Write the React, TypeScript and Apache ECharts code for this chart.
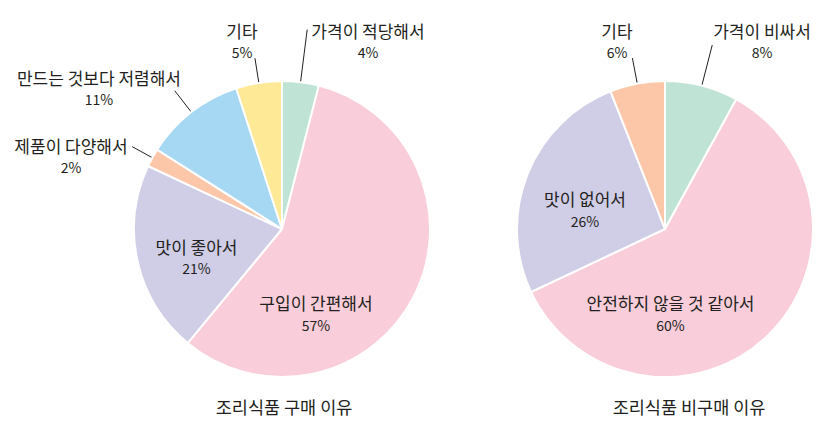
import React, { useEffect, useRef } from "react";
import * as echarts from "echarts";

const buyCategories = ["가격이 적당해서", "구입이 간편해서", "맛이 좋아서", "제품이 다양해서", "만드는 것보다 저렴해서", "기타"];
const buyValues = [4, 57, 21, 2, 11, 5];
const nonBuyCategories = ["가격이 비싸서", "안전하지 않을 것 같아서", "맛이 없어서", "기타"];
const nonBuyValues = [8, 60, 26, 6];
const chartTitles = ["조리식품 구매 이유", "조리식품 비구매 이유"];

const buyColors = ["#bfe3d4", "#f9cdd9", "#d0cde6", "#fcc6a8", "#a6d8f4", "#fde996"];
const nonBuyColors = ["#bfe3d4", "#f9cdd9", "#d0cde6", "#fcc6a8"];

const RADIUS = 148;
const LINE_START = 140;
const centers: number[][] = [[282, 229], [665, 229]];
const FONT = "'Noto Sans CJK KR', 'Noto Sans', sans-serif";
const TEXT_COLOR = "#231f20";

type Spec = { out: boolean; ox: number; oy: number; lineEnd?: number };
const labelSpecs: Spec[][] = [
  [
    { out: true, ox: 86, oy: -188, lineEnd: 201 },
    { out: false, ox: 34, oy: 84.5 },
    { out: false, ox: -85.5, oy: 28 },
    { out: true, ox: -211, oy: -73, lineEnd: 171 },
    { out: true, ox: -183, oy: -141, lineEnd: 175 },
    { out: true, ox: -40, oy: -188, lineEnd: 173 },
  ],
  [
    { out: true, ox: 97, oy: -188, lineEnd: 190 },
    { out: false, ox: 5.5, oy: 84.5 },
    { out: false, ox: -80, oy: -19.5 },
    { out: true, ox: -48, oy: -188, lineEnd: 174 },
  ],
];

function makeSeries(si: number, names: string[], values: number[], colors: string[]) {
  const [cx, cy] = centers[si];
  return {
    type: "pie",
    center: [cx, cy],
    radius: RADIUS,
    startAngle: 90,
    clockwise: true,
    avoidLabelOverlap: false,
    emphasis: { disabled: true },
    itemStyle: { borderColor: "#ffffff", borderWidth: 2 },
    label: {
      formatter: (p: any) => `{n|${p.name}}\n{v|${p.value}%}`,
      rich: {
        n: { fontFamily: FONT, fontSize: 17, lineHeight: 22, color: TEXT_COLOR, align: "center" },
        v: { fontFamily: FONT, fontSize: 14, lineHeight: 22, color: TEXT_COLOR, align: "center" },
      },
    },
    labelLine: { show: true, length: 20, length2: 0, lineStyle: { color: TEXT_COLOR, width: 1 } },
    labelLayout: (params: any) => {
      const spec = labelSpecs[si][params.dataIndex];
      const res: any = { x: cx + spec.ox, y: cy + spec.oy, align: "center", verticalAlign: "middle" };
      if (spec.out && params.labelLinePoints && params.labelLinePoints.length) {
        const p0 = params.labelLinePoints[0];
        const dx = p0[0] - cx;
        const dy = p0[1] - cy;
        const len = Math.hypot(dx, dy) || 1;
        const ux = dx / len;
        const uy = dy / len;
        const le = spec.lineEnd as number;
        res.labelLinePoints = [
          [cx + ux * LINE_START, cy + uy * LINE_START],
          [cx + ux * le, cy + uy * le],
        ];
      }
      return res;
    },
    data: names.map((name, i) => ({
      name,
      value: values[i],
      itemStyle: { color: colors[i] },
      label: { position: labelSpecs[si][i].out ? "outside" : "inside" },
      labelLine: { show: labelSpecs[si][i].out },
    })),
  };
}

export default function App() {
  const ref = useRef<HTMLDivElement>(null);
  useEffect(() => {
    if (!ref.current) return;
    const chart = echarts.init(ref.current, undefined, { renderer: "svg" });
    chart.setOption({
      animation: false,
      backgroundColor: "#ffffff",
      series: [
        makeSeries(0, buyCategories, buyValues, buyColors),
        makeSeries(1, nonBuyCategories, nonBuyValues, nonBuyColors),
      ],
      graphic: [
        {
          type: "text",
          x: 284,
          y: 406,
          style: { text: chartTitles[0], font: `17.5px ${FONT}`, fill: TEXT_COLOR, align: "center", verticalAlign: "middle" },
        },
        {
          type: "text",
          x: 689,
          y: 406,
          style: { text: chartTitles[1], font: `17.5px ${FONT}`, fill: TEXT_COLOR, align: "center", verticalAlign: "middle" },
        },
      ],
    });
    return () => chart.dispose();
  }, []);
  return <div ref={ref} style={{ position: "fixed", left: 0, top: 0, width: 829, height: 430 }} />;
}
